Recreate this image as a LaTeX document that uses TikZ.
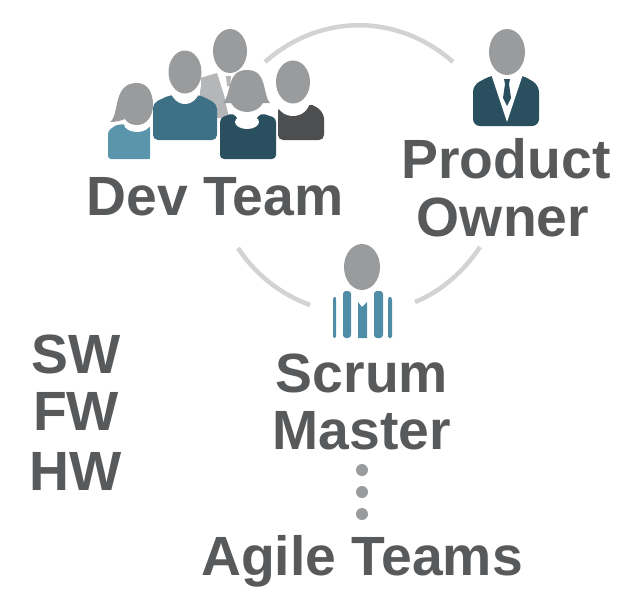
\documentclass[tikz,border=0pt]{standalone}
\usepackage{fontspec}
\setmainfont{Liberation Sans}
\definecolor{txtgrey}{HTML}{58595B}
\definecolor{headgrey}{HTML}{9A9B9C}
\definecolor{backgrey}{HTML}{B4B6B7}
\definecolor{arcgrey}{HTML}{D2D3D4}
\definecolor{tealmid}{HTML}{3F7186}
\definecolor{tealdark}{HTML}{2A4F5F}
\definecolor{teallight}{HTML}{5A95AC}
\definecolor{stripeblue}{HTML}{4F8CA6}
\definecolor{darkbody}{HTML}{4D4E50}
\tikzset{
  label text/.style={font=\fontsize{55.3}{58}\bfseries, text=txtgrey, anchor=base, inner sep=0pt},
  ring/.style={draw=arcgrey, line width=4.5pt, line cap=butt},
  head/.style={fill=headgrey},
  gap/.style={fill=white}
}
\begin{document}
\begin{tikzpicture}[x=1pt,y=-1pt]
\useasboundingbox (0,0) rectangle (641,606);
% ring
\draw[ring] (265,62) .. controls (320,13) and (398,13) .. (453,62);
\draw[ring] (238,248) .. controls (255,274) and (280,294) .. (310,305);
\draw[ring] (415,302) .. controls (442,291) and (464,271) .. (480,247);
% back person
\fill[backgrey] (200,78) -- (217,73) -- (224,95) -- (229,118) -- (200,118) -- cycle;
\fill[backgrey] (226,76) -- (231,76) -- (230,86) -- (227,86) -- cycle;
\fill[head] (230,51) ellipse [x radius=17, y radius=22];
% right person
\fill[darkbody, rounded corners=5pt] (278,106) -- (288,110) -- (298,113) -- (308,104) -- (316,106) -- (324,114) -- (324,140) -- (278,140) -- cycle;
\fill[gap] (293,100) ellipse [x radius=17, y radius=16];
\fill[head] (293,82) ellipse [x radius=17, y radius=21.5];
% second person
\fill[tealmid, rounded corners=5pt] (153,140) -- (153,103) -- (170,95) -- (200,95) -- (217,104) -- (217,140) -- cycle;
\fill[gap] (185,84) ellipse [x radius=16, y radius=20];
\fill[head] (185,72) ellipse [x radius=16.5, y radius=21.5];
% woman centre
\fill[tealdark, rounded corners=4pt] (220,159) -- (220,118) -- (233,113) -- (247,130) -- (261,113) -- (276,118) -- (276,159) -- cycle;
\fill[gap] (247,128) -- (232,112) -- (262,112) -- cycle;
\fill[gap] (247,122) ellipse [x radius=12, y radius=7];
\fill[head] (223,103) .. controls (232,94) and (226,70) .. (247,70) .. controls (268,70) and (262,94) .. (270,103) -- (263,103) .. controls (260,109) and (253,112) .. (247,112) .. controls (241,112) and (234,109) .. (231,103) -- cycle;
% woman left
\fill[teallight, rounded corners=3pt] (108,159) -- (108,131) -- (116,125) -- (125,124) -- (137,133) -- (150,125) -- (150,159) -- cycle;
\fill[teallight] (140,135) rectangle (150,159);
\fill[gap] (137,124) ellipse [x radius=13, y radius=8];
\fill[head] (110,122) .. controls (120,115) and (112,83) .. (137,83) .. controls (148,83) and (153,93) .. (153,105) .. controls (153,117) and (146,125) .. (137,125) .. controls (130,125) and (127,122) .. (125,119) .. controls (120,121) and (115,122) .. (110,122) -- cycle;
% product owner
\fill[tealdark, rounded corners=7pt] (473,126) -- (473,85) -- (492,75) -- (522,75) -- (539,85) -- (539,126) -- cycle;
\fill[gap] (491,74) -- (507,122) -- (523,74) -- cycle;
\fill[tealdark] (504,79) -- (510,79) -- (509,84) -- (511,98) -- (507,106) -- (503,98) -- (505,84) -- cycle;
\fill[head] (507,52) ellipse [x radius=18, y radius=23];
% scrum master
\begin{scope}[stripeblue]
\fill[rounded corners=1.5pt] (333,338) -- (333,298) -- (335,296) -- (336,298) -- (336,338) -- cycle;
\fill[rounded corners=3pt] (343,338) -- (343,291) -- (351,291) -- (351,338) -- cycle;
\fill (358,338) -- (358,302) -- (362,307) -- (367,302) -- (367,338) -- cycle;
\fill[rounded corners=3pt] (374,338) -- (374,291) -- (383,291) -- (383,338) -- cycle;
\fill[rounded corners=1.5pt] (388,338) -- (388,298) -- (390,296) -- (392,298) -- (392,338) -- cycle;
\end{scope}
\fill[head] (362,267) ellipse [x radius=18, y radius=23];
% dots
\fill[headgrey] (362,470) circle [radius=6];
\fill[headgrey] (362,492) circle [radius=6];
\fill[headgrey] (362,514) circle [radius=6];
% labels
\node[label text] (dev) at (215,215) {Dev Team};
\node[label text] (prod) at (506,178) {Product};
\node[label text] (own) at (503,236) {Owner};
\node[label text] (scrum) at (362,392) {Scrum};
\node[label text] (mast) at (362,449) {Master};
\node[label text] (sw) at (76,373) {SW};
\node[label text] (fw) at (76,430) {FW};
\node[label text] (hw) at (76,490) {HW};
\node[label text] (agile) at (362,575) {Agile Teams};
\end{tikzpicture}
\end{document}
